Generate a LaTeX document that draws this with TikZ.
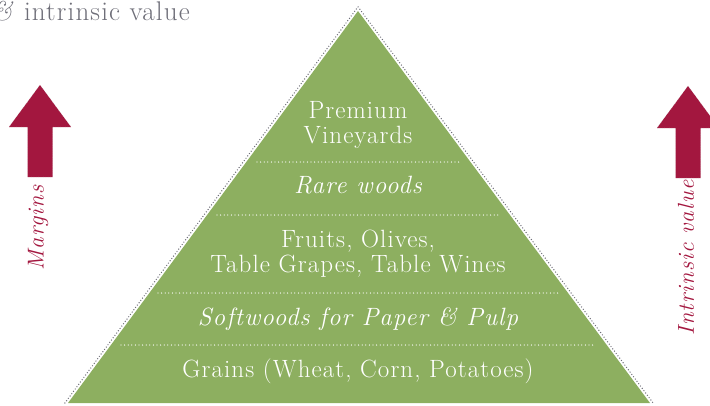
\documentclass[tikz,border=0pt]{standalone}
\usepackage{fontspec}
\setmainfont{Latin Modern Roman}[LetterSpace=4.3]
\usepackage{tikz}
\usetikzlibrary{calc}
\definecolor{xgreen}{HTML}{8DAF60}
\definecolor{xcrimson}{HTML}{A3173F}
\definecolor{xgrey}{HTML}{6E6E78}
\tikzset{
  layer/.style = {text=white, align=center, inner sep=0pt, anchor=base, font=\fontsize{25}{25}\selectfont},
  separator/.style = {white, line width=1.3pt, line cap=round, dash pattern=on 0pt off 3.6pt},
  rim/.style = {xgrey, line width=1.4pt, line cap=round, dash pattern=on 0pt off 2.9pt},
  sidelabel/.style = {text=xcrimson, rotate=90, inner sep=0pt, font=\fontsize{23}{23}\itshape},
  pics/uparrow/.style = { code={ \draw[fill=xcrimson, draw=black!30, dotted, thin] (0,0) -- (31,42) -- (12.5,42) -- (12.5,92) -- (-12.5,92) -- (-12.5,42) -- (-31,42) -- cycle; }},
}

\begin{document}
\begin{tikzpicture}[x=1pt, y=-1pt]
			\useasboundingbox (0,0) rectangle (710,405);
			\fill[xgreen] (68,403) -- (358,11) -- (650,403) -- cycle;
			\draw[rim] (64.9,403) -- (358,6.8) -- (653.1,403);
			\foreach \y/\l/\r in {162/257/459, 215/217/499, 293/158/558, 345/121/595}
				\draw[separator] (\l,\y) -- (\r,\y);
			\node[layer] (vineyards) at (358,143) {Premium\\Vineyards};
			\node[layer] (rarewoods) at (358,193) {\itshape Rare woods};
			\node[layer] (fruits) at (358,272) {Fruits, Olives,\\Table Grapes, Table Wines};
			\node[layer] (softwoods) at (358,325) {\itshape Softwoods for Paper \& Pulp};
			\node[layer] (grains) at (358,377) {Grains (Wheat, Corn, Potatoes)};
			\pic at (40,85) {uparrow};
			\pic at (688,86) {uparrow};
			\node[sidelabel] (margins) at (38,228) {Margins};
			\node[sidelabel] (intrinsic) at (686,258) {Intrinsic value};
			\node[text=xgrey, anchor=base west, inner sep=0pt, font=\fontsize{27}{27}\selectfont] (title) at (-8,20) {\textit{\&} intrinsic value};
		\end{tikzpicture}
\end{document}
